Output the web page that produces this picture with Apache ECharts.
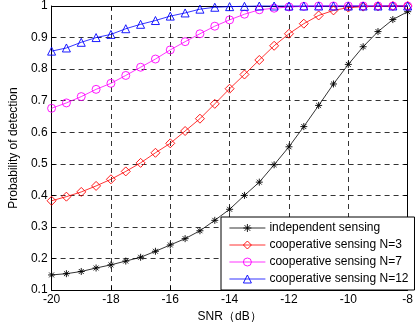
<!DOCTYPE html>
<html><head><meta charset="utf-8">
<script src="https://cdn.jsdelivr.net/npm/echarts@6/dist/echarts.min.js"></script>
<style>html,body{margin:0;padding:0;background:#fff}#c{width:416px;height:328px}</style>
</head><body><div id="c"></div>
<script>
const snr = [-20,-19.5,-19,-18.5,-18,-17.5,-17,-16.5,-16,-15.5,-15,-14.5,-14,-13.5,-13,-12.5,-12,-11.5,-11,-10.5,-10,-9.5,-9,-8.5,-8];
const independent = [0.148,0.152,0.159,0.170,0.180,0.192,0.204,0.223,0.243,0.263,0.288,0.321,0.356,0.400,0.442,0.497,0.554,0.618,0.685,0.753,0.815,0.871,0.919,0.957,0.982];
const coopN3 = [0.383,0.396,0.411,0.430,0.451,0.476,0.503,0.535,0.565,0.604,0.643,0.690,0.738,0.783,0.829,0.874,0.912,0.944,0.970,0.986,0.995,0.998,0.999,1.0,1.0];
const coopN7 = [0.676,0.693,0.713,0.736,0.755,0.780,0.806,0.832,0.861,0.887,0.912,0.936,0.956,0.974,0.988,0.993,0.997,0.999,1.0,1.0,1.0,1.0,1.0,1.0,1.0];
const coopN12 = [0.857,0.867,0.885,0.900,0.910,0.928,0.942,0.954,0.968,0.978,0.990,0.996,0.998,0.999,1.0,1.0,1.0,1.0,1.0,1.0,1.0,1.0,1.0,1.0,1.0];
const seriesNames = ['independent sensing','cooperative sensing N=3','cooperative sensing N=7','cooperative sensing N=12'];
const xTitle = 'SNR（dB）';
const yTitle = 'Probability of detection';

const pair = a => snr.map((x,i)=>[x,a[i]]);
const font = 'Arial, "Liberation Sans", sans-serif';
const star = 'path://M5,0L5,10M0,5L10,5M1.5,1.5L8.5,8.5M1.5,8.5L8.5,1.5';
const colors = ['#000000','#ff0000','#ff00ff','#0000ff'];
const symbols = [star,'diamond','circle','triangle'];
const sizes = [7,9,8,8];
function fillOf(i){ return i===0 ? colors[i] : 'rgba(0,0,0,0)'; }
function mk(i, data){
  return {
    name:seriesNames[i], type:'line', data:pair(data), symbol:symbols[i], symbolSize:sizes[i],
    lineStyle:{color:colors[i], width:0.8},
    itemStyle:{color:fillOf(i), borderColor:colors[i], borderWidth:0.9},
    emphasis:{disabled:true}, animation:false, clip:false
  };
}
const chart = echarts.init(document.getElementById('c'), null, {renderer:'canvas'});
const axisCommon = {
  axisLine:{show:true, lineStyle:{color:'#000', width:1}},
  axisTick:{show:true, inside:true, length:4, lineStyle:{color:'#000'}}
};
chart.setOption({
  animation:false,
  grid:{left:36, right:5, top:5, bottom:29, show:false},
  xAxis:[
    Object.assign({type:'value', min:-20, max:-8, interval:2, position:'bottom',
      name:xTitle, nameLocation:'middle', nameGap:19, nameTextStyle:{color:'#000', fontSize:12, fontFamily:font},
      splitLine:{show:true, lineStyle:{color:'#000', type:[5,4], width:0.8}},
      axisLabel:{color:'#000', fontSize:12, fontFamily:font, margin:4}}, axisCommon),
    {type:'value', min:-20, max:-8, interval:2, position:'top', axisLine:{show:true, lineStyle:{color:'#000'}},
      axisTick:{show:true, inside:true, length:4, lineStyle:{color:'#000'}}, axisLabel:{show:false}, splitLine:{show:false}}
  ],
  yAxis:[
    Object.assign({type:'value', min:0.1, max:1, interval:0.1, position:'left',
      name:yTitle, nameLocation:'middle', nameGap:24, nameRotate:90, nameTextStyle:{color:'#000', fontSize:12, fontFamily:font},
      splitLine:{show:true, lineStyle:{color:'#000', type:[5,4], width:0.8}},
      axisLabel:{color:'#000', fontSize:12, fontFamily:font, margin:4, formatter:v=>String(Math.round(v*10)/10)}}, axisCommon),
    {type:'value', min:0.1, max:1, interval:0.1, position:'right', axisLine:{show:true, lineStyle:{color:'#000'}},
      axisTick:{show:true, inside:true, length:4, lineStyle:{color:'#000'}}, axisLabel:{show:false}, splitLine:{show:false}}
  ],
  legend:{
    left:221, top:217, width:192, orient:'vertical', itemGap:5, itemWidth:36, itemHeight:10,
    padding:[5,6,5,8], backgroundColor:'#fff', borderColor:'#000', borderWidth:1,
    textStyle:{color:'#000', fontSize:12, fontFamily:font, padding:[0,0,0,-1]},
    data:seriesNames.map((n,i)=>({name:n,
      itemStyle:{color:fillOf(i), borderColor:colors[i], borderWidth:0.9},
      lineStyle:{color:colors[i], width:0.8}}))
  },
  series:[
    mk(0, independent), mk(1, coopN3), mk(2, coopN7), mk(3, coopN12)
  ]
});
</script></body></html>
